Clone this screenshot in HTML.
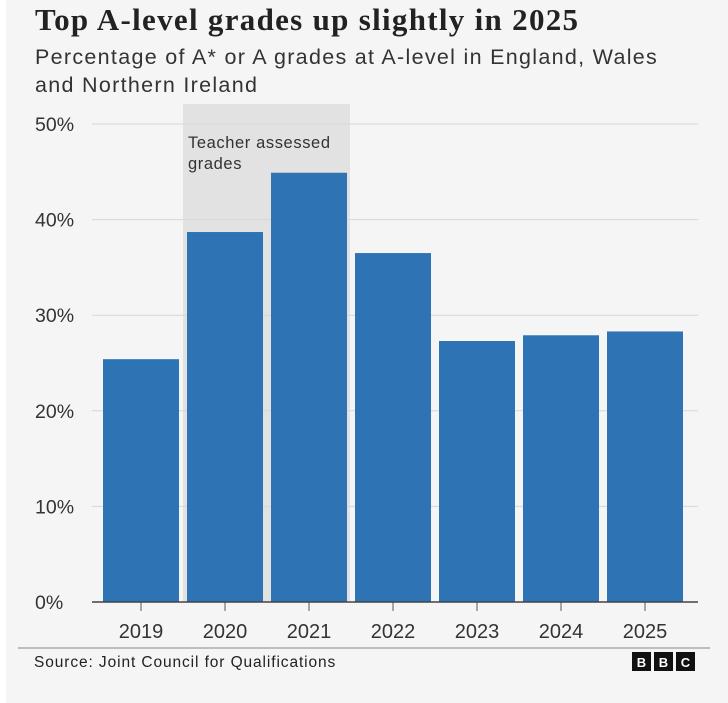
<!DOCTYPE html>
<html><head><meta charset="utf-8"><style>
body{margin:0;width:728px;height:703px;background:#fff;overflow:hidden}
#wrap{position:absolute;left:6px;top:0;width:722px;height:703px;background:#f5f5f5}
.t{position:absolute;font-family:"Liberation Sans",sans-serif;color:#222;white-space:nowrap}
</style></head><body>
<div id="wrap"></div>
<div class="t" style="left:35px;top:2px;font-family:'Liberation Serif',serif;font-weight:bold;font-size:31px;letter-spacing:1.3px;color:#222">Top A-level grades up slightly in 2025</div>
<div class="t" style="left:35px;top:43px;font-size:21.5px;letter-spacing:1.3px;line-height:28px;color:#333">Percentage of A* or A grades at A-level in England, Wales<br>and Northern Ireland</div>
<svg id="chart" width="728" height="703" style="position:absolute;left:0;top:0"></svg>
<script>
const years=["2019","2020","2021","2022","2023","2024","2025"];
const values=[25.4,38.7,44.9,36.5,27.3,27.9,28.3];
const ticks=[0,10,20,30,40,50];
const tickLabels=["0%","10%","20%","30%","40%","50%"];
const shadedYears=["2020","2021"];
const NS="http://www.w3.org/2000/svg";
const svg=document.getElementById("chart");
const y0=602,pxPer=9.56,x0=99,step=84,bw=76;
const yS=v=>y0-v*pxPer;
const xS=i=>x0+i*step;
function mk(t,a){const e=document.createElementNS(NS,t);for(const k in a)e.setAttribute(k,a[k]);svg.appendChild(e);return e;}
const si=years.indexOf(shadedYears[0]),ei=years.indexOf(shadedYears[1]);
let r=mk("rect",{x:xS(si)+4-4,y:104,width:(ei-si+1)*step-1,height:y0-104,fill:"#e2e2e2"});


let tx=mk("text",{x:188,y:148,"font-family":"Liberation Sans, sans-serif","font-size":"16.5","letter-spacing":"0.6",fill:"#333"});
tx.textContent="Teacher assessed";


let tx2=mk("text",{x:188,y:169,"font-family":"Liberation Sans, sans-serif","font-size":"16.5","letter-spacing":"0.6",fill:"#333"});
tx2.textContent="grades";


ticks.forEach((t,i)=>{
  const y=yS(t);
  if(t>0){const g=mk("line",{x1:92,x2:698,y1:y,y2:y,stroke:"#d6d6d6","stroke-width":1});
  
  }
  const l=mk("text",{x:35,y:y+7,"font-family":"Liberation Sans, sans-serif","font-size":"19.5",fill:"#333"});
  l.textContent=tickLabels[i];
  
  
});
years.forEach((yr,i)=>{
  const b=mk("rect",{x:xS(i)+4,y:yS(values[i]),width:bw,height:values[i]*pxPer,fill:"#2e73b4"});
  
  
  const cx=xS(i)+4+bw/2;
  const tk=mk("line",{x1:cx,x2:cx,y1:y0,y2:611,stroke:"#555","stroke-width":1});
  
  
  const l=mk("text",{x:cx,y:638,"text-anchor":"middle","font-family":"Liberation Sans, sans-serif","font-size":"20",fill:"#333"});
  l.textContent=yr;
  
  
});
const ax=mk("line",{x1:92,x2:698,y1:y0,y2:y0,stroke:"#444","stroke-width":1.5});


const fl=mk("line",{x1:18,x2:710,y1:648,y2:648,stroke:"#888","stroke-width":1});


const src=mk("text",{x:34,y:667,"font-family":"Liberation Sans, sans-serif","font-size":"15.5","letter-spacing":"0.9",fill:"#222"});
src.textContent="Source: Joint Council for Qualifications";


["B","B","C"].forEach((c,i)=>{
  const bx=632+i*22;
  const s=mk("rect",{x:bx,y:652,width:19,height:19,fill:"#111"});
  
  
  const t=mk("text",{x:bx+9.5,y:667,"text-anchor":"middle","font-family":"Liberation Sans, sans-serif","font-weight":"bold","font-size":"13",fill:"#fff"});
  t.textContent=c;
  
  
});
</script>
</body></html>
